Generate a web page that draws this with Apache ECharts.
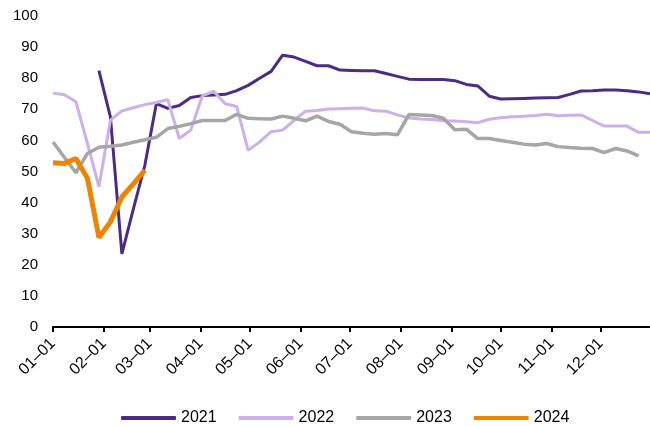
<!DOCTYPE html>
<html>
<head>
<meta charset="utf-8">
<script src="https://cdn.jsdelivr.net/npm/echarts@6/dist/echarts.min.js"></script>
<style>
  html, body { margin: 0; padding: 0; background: #fff; }
  #chart { width: 650px; height: 427px; }
</style>
</head>
<body>
<div id="chart"></div>
<script>
// weekly sample dates (day 0, 7, 14 ... of the year)
const weeks = [
  "01-01", "01-08", "01-15", "01-22", "01-29", "02-05", "02-12", "02-19", "02-26",
  "03-05", "03-12", "03-19", "03-26", "04-02", "04-09", "04-16", "04-23", "04-30",
  "05-07", "05-14", "05-21", "05-28", "06-04", "06-11", "06-18", "06-25", "07-02",
  "07-09", "07-16", "07-23", "07-30", "08-06", "08-13", "08-20", "08-27", "09-03",
  "09-10", "09-17", "09-24", "10-01", "10-08", "10-15", "10-22", "10-29", "11-05",
  "11-12", "11-19", "11-26", "12-03", "12-10", "12-17", "12-24", "12-31"
];

const years = ["2021", "2022", "2023", "2024"];

const v2021 = [null, null, null, null, 82.4, 67.6, 23.5, 38, 52,
  71.8, 70.3, 71.2, 73.8, 74.4, 74.6, 74.8, 76, 77.7,
  80, 82.2, 87.4, 86.8, 85.4, 84, 84, 82.6, 82.5,
  82.4, 82.4, 81.5, 80.6, 79.7, 79.6, 79.6, 79.6, 79.2,
  78, 77.5, 74.2, 73.3, 73.4, 73.5, 73.6, 73.7, 73.8,
  74.8, 75.9, 76, 76.2, 76.2, 76, 75.6, 75];

const v2022 = [75.2, 74.7, 72.4, 59, 45.1, 66.5, 69.5, 70.5, 71.5,
  72.2, 73.1, 60.6, 63.3, 74.3, 75.8, 71.8, 70.9, 56.8,
  59.5, 62.8, 63.3, 66.4, 69.4, 69.6, 70.1, 70.2, 70.3,
  70.4, 69.5, 69.4, 68.2, 67.2, 66.9, 66.7, 66.3, 66.2,
  66, 65.7, 66.8, 67.3, 67.6, 67.8, 68, 68.4, 67.9,
  68.1, 68.2, 66.4, 64.6, 64.6, 64.6, 62.6, 62.6];

const v2023 = [59.5, 54.5, 49.6, 55.8, 57.8, 58.1, 58.5, 59.4, 60.2,
  61, 63.8, 64.5, 65.4, 66.4, 66.4, 66.4, 68.4, 67.1,
  67, 66.9, 67.8, 67.1, 66.3, 67.8, 66.1, 65.2, 62.8,
  62.3, 62, 62.2, 61.8, 68.3, 68.2, 68, 67.1, 63.4,
  63.6, 60.6, 60.6, 60, 59.4, 58.8, 58.5, 59, 58,
  57.7, 57.5, 57.4, 56.1, 57.4, 56.6, 55, null];

const v2024 = [52.8, 52.6, 54.2, 47.8, 28.8, 33.8, 41.8, 46, 50.4];

const colors = ["#4b2c85", "#cdb0ea", "#a6a6a6", "#f08300"];
const widths = [3, 3, 3.5, 5];

// x axis: every day of a (non leap) year, labelled on the 1st of each month
const monthDays = [31, 28, 31, 30, 31, 30, 31, 31, 30, 31, 30, 31];
const days = [];
monthDays.forEach((n, m) => {
  for (let d = 1; d <= n; d++) {
    days.push(String(m + 1).padStart(2, "0") + "-" + String(d).padStart(2, "0"));
  }
});
const isMonthStart = (i, v) => v.slice(3) === "01";

const font = "'Liberation Sans', Arial, sans-serif";

const chart = echarts.init(document.getElementById("chart"));
chart.setOption({
  animation: false,
  color: colors,
  grid: { left: 53, right: 0, top: 16, bottom: 100 },
  legend: {
    data: years,
    left: 116,
    top: 405,
    icon: "roundRect",
    itemWidth: 55,
    itemHeight: 4,
    itemGap: 22,
    textStyle: { fontSize: 16, color: "#000", fontFamily: font },
  },
  xAxis: {
    type: "category",
    data: days,
    boundaryGap: false,
    axisLine: { lineStyle: { color: "#000", width: 2 } },
    axisTick: { interval: isMonthStart, length: 5, lineStyle: { color: "#000", width: 2 } },
    axisLabel: {
      interval: isMonthStart,
      rotate: 45,
      margin: 14,
      fontSize: 16,
      color: "#000",
      fontFamily: font,
      formatter: (v) => v.replace("-", "–"),
    },
    splitLine: { show: false },
  },
  yAxis: {
    type: "value",
    min: 0,
    max: 100,
    interval: 10,
    axisLine: { show: false },
    axisTick: { show: false },
    splitLine: { show: false },
    axisLabel: { fontSize: 15, color: "#000", margin: 15, fontFamily: font },
  },
  series: [v2021, v2022, v2023, v2024].map((vals, i) => ({
    name: years[i],
    type: "line",
    symbol: "none",
    data: vals.map((v, k) => [weeks[k], v]),
    lineStyle: { width: widths[i], color: colors[i] },
    itemStyle: { color: colors[i] },
  })),
});
</script>
</body>
</html>
